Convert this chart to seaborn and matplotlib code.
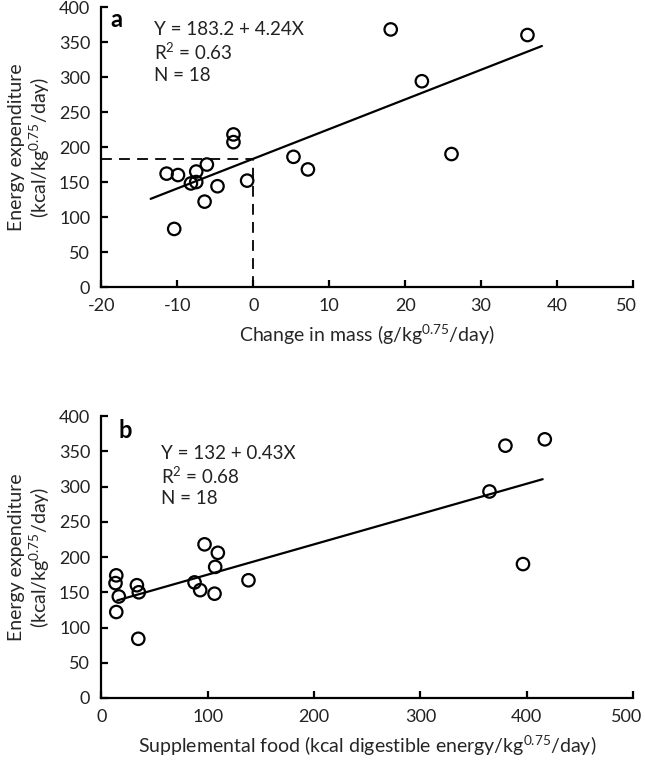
import seaborn as sns
import pandas as pd
import matplotlib.pyplot as plt
import matplotlib.transforms as mtransforms

# panel a: change in mass vs energy expenditure
mass_change = [-11.4, -9.9, -10.4, -8.2, -7.5, -7.5, -6.1, -6.4, -4.7, -2.6, -2.6, -0.8,
               5.3, 7.2, 18.1, 22.2, 26.1, 36.1]
energy_a = [162, 160, 83, 148, 150, 165, 175, 122, 144, 218, 207, 152,
            186, 168, 368, 294, 190, 360]
fit_a = (183.2, 4.24)          # intercept, slope
fit_a_range = [-13.5, 38.0]

# panel b: supplemental food vs energy expenditure
supp_food = [14.1, 13.4, 16.5, 14.1, 33.5, 35.3, 34.8, 87.7, 93.0, 97.1, 109.6, 107.1,
             106.5, 138.4, 380.0, 417.0, 365.0, 396.5]
energy_b = [174, 163, 144, 122, 160, 150, 84, 164, 153, 218, 206, 186,
            148, 167, 358, 367, 293, 190]
fit_b = (132.0, 0.43)
fit_b_range = [15.0, 415.0]

y_ticks = [0, 50, 100, 150, 200, 250, 300, 350, 400]
xa_ticks = [-20, -10, 0, 10, 20, 30, 40, 50]
xb_ticks = [0, 100, 200, 300, 400, 500]

sns.set_style("ticks")
plt.rcParams['font.family'] = ['Lato', 'DejaVu Sans']
plt.rcParams['mathtext.fontset'] = 'custom'
plt.rcParams['mathtext.rm'] = 'Lato'
plt.rcParams['axes.unicode_minus'] = False
plt.rcParams['text.color'] = '#222222'

df_a = pd.DataFrame({"x": mass_change, "y": energy_a})
df_b = pd.DataFrame({"x": supp_food, "y": energy_b})
line_a = pd.DataFrame({"x": fit_a_range, "y": [fit_a[0] + fit_a[1] * v for v in fit_a_range]})
line_b = pd.DataFrame({"x": fit_b_range, "y": [fit_b[0] + fit_b[1] * v for v in fit_b_range]})

fig = plt.figure(figsize=(6.45, 7.64), dpi=100)
ax1 = fig.add_axes([0.157, 0.6243, 0.8245, 0.3665])
ax2 = fig.add_axes([0.157, 0.0864, 0.8245, 0.369])

ylab = "Energy expenditure\n(kcal/kg$^{0.75}$/day)"
TXT = 13.5


def style(ax, xticks):
    ax.set_ylim(0, 400)
    ax.set_yticks(y_ticks)
    ax.set_xticks(xticks)
    ax.set_xlim(xticks[0], xticks[-1])
    sns.despine(ax=ax)
    for s in ["left", "bottom"]:
        ax.spines[s].set_linewidth(1.6)
        ax.spines[s].set_color("black")
    ax.tick_params(direction="in", length=5, width=1.6, colors="black", labelcolor="#222222",
                   labelsize=13, pad=8)
    ax.set_ylabel(ylab, fontsize=14, linespacing=1.1, labelpad=5)
    # last x label sits at the figure edge, pull it in a touch
    last = ax.get_xticklabels()[-1]
    last.set_transform(last.get_transform() +
                       mtransforms.ScaledTranslation(-5 / 72, 0, fig.dpi_scale_trans))


# panel a
sns.lineplot(data=line_a, x="x", y="y", ax=ax1, color="black", lw=1.6)
ax1.plot([-20, 0], [fit_a[0], fit_a[0]], color="black", lw=1.3, ls=(0, (6, 4)))
ax1.plot([0, 0], [0, fit_a[0]], color="black", lw=1.3, ls=(0, (6, 4)))
sns.scatterplot(data=df_a, x="x", y="y", ax=ax1, marker="o", s=80,
                facecolor="none", edgecolor="black", linewidth=1.6, zorder=3)
style(ax1, xa_ticks)
ax1.set_xlabel("Change in mass (g/kg$^{0.75}$/day)", fontsize=14, labelpad=6)
ax1.text(0.018, 0.955, "a", transform=ax1.transAxes, fontsize=17, fontweight="bold",
         va="center", color="black")
ax1.text(0.1, 0.918, "Y = 183.2 + 4.24X", transform=ax1.transAxes, va="center", fontsize=TXT)
ax1.text(0.1, 0.839, "R$^2$ = 0.63", transform=ax1.transAxes, va="center", fontsize=TXT)
ax1.text(0.1, 0.757, "N = 18", transform=ax1.transAxes, va="center", fontsize=TXT)

# panel b
sns.lineplot(data=line_b, x="x", y="y", ax=ax2, color="black", lw=1.6)
sns.scatterplot(data=df_b, x="x", y="y", ax=ax2, marker="o", s=80,
                facecolor="none", edgecolor="black", linewidth=1.6, zorder=3)
style(ax2, xb_ticks)
ax2.set_xlabel("Supplemental food (kcal digestible energy/kg$^{0.75}$/day)", fontsize=14, labelpad=6)
ax2.text(0.033, 0.95, "b", transform=ax2.transAxes, fontsize=17, fontweight="bold",
         va="center", color="black")
ax2.text(0.113, 0.869, "Y = 132 + 0.43X", transform=ax2.transAxes, va="center", fontsize=TXT)
ax2.text(0.113, 0.787, "R$^2$ = 0.68", transform=ax2.transAxes, va="center", fontsize=TXT)
ax2.text(0.113, 0.708, "N = 18", transform=ax2.transAxes, va="center", fontsize=TXT)

fig.savefig("out.png", dpi=100)
